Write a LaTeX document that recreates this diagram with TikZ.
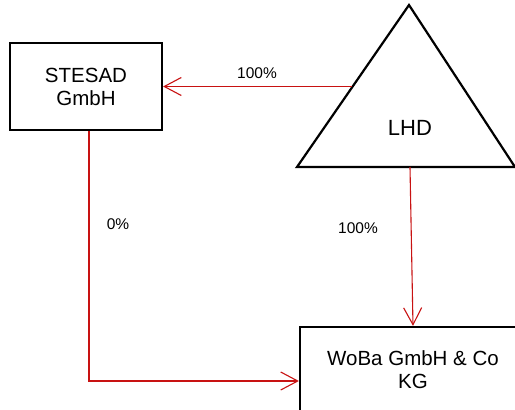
\documentclass[tikz,border=0pt]{standalone}
\usepackage{fontspec}
\setmainfont{Liberation Sans}
\usetikzlibrary{arrows.meta}

\definecolor{linkred}{RGB}{200,18,18}

\tikzset{
	entity/.style={draw, line width=2.2pt, align=center, font=\fontsize{20.5}{23}\selectfont, inner sep=0pt},
	share/.style={draw=linkred, line width=1.1pt, -{Straight Barb[length=17pt,width=18pt]}},
	pct/.style={font=\fontsize{15.5}{18}\selectfont}
}

\begin{document}
\begin{tikzpicture}[x=1pt,y=-1pt]
	\useasboundingbox (0,0) rectangle (515,410);
	\clip (0,0) rectangle (515,410);

	\node[entity, minimum width=152pt, minimum height=87pt] (stesad) at (86,86.5) {STESAD\\GmbH};
	\node[entity, minimum width=226pt, minimum height=86pt] (woba) at (413,370) {WoBa GmbH \& Co\\KG};

	% triangle for the state
	\draw[line width=2.2pt, line join=miter] (409,5) -- (515,167) -- (297,167) -- cycle;
	\node[font=\fontsize{22}{24}\selectfont] (lhd) at (410,128) {LHD};
	\coordinate (lhd-l) at (352,86.5);
	\coordinate (lhd-b) at (410,167);

	\draw [share] (lhd-l) -- (stesad.east);
	\draw [share] (lhd-b) -- (woba.north);
	\draw [share] ([xshift=3pt]stesad.south) |- ([yshift=-11pt]woba.west);

	\node[pct] (p1) at (257,73) {100\%};
	\node[pct] (p2) at (358,228) {100\%};
	\node[pct] (p3) at (118,224) {0\%};
\end{tikzpicture}
\end{document}
